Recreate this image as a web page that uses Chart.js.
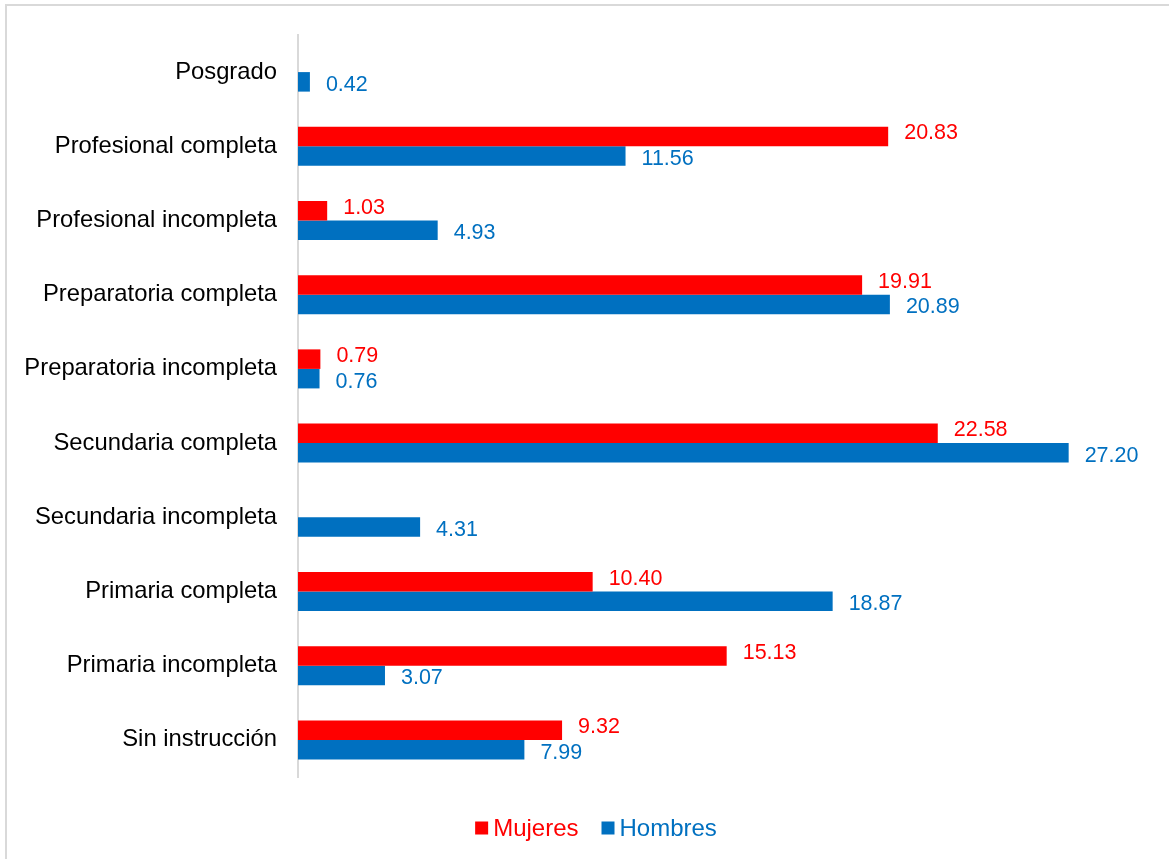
<!DOCTYPE html>
<html>
<head>
<meta charset="utf-8">
<script src="https://cdn.jsdelivr.net/npm/chart.js@4/dist/chart.umd.min.js"></script>
<style>
  html, body { margin: 0; padding: 0; background: #fff; }
  #wrap { position: relative; width: 1169px; height: 859px; }
</style>
</head>
<body>
<div id="wrap"><canvas id="c" width="1169" height="859"></canvas></div>
<script>
// Education level categories, listed top to bottom
const categories = [
  'Posgrado',
  'Profesional completa',
  'Profesional incompleta',
  'Preparatoria completa',
  'Preparatoria incompleta',
  'Secundaria completa',
  'Secundaria incompleta',
  'Primaria completa',
  'Primaria incompleta',
  'Sin instrucción'
];
// Percentages by sex (null = no bar)
const mujeres = [null, 20.83, 1.03, 19.91, 0.79, 22.58, null, 10.40, 15.13, 9.32];
const hombres = [0.42, 11.56, 4.93, 20.89, 0.76, 27.20, 4.31, 18.87, 3.07, 7.99];

const RED = '#FF0000';
const BLUE = '#0070C0';
const FONT = '"Liberation Sans", Arial, sans-serif';

// Frame around the chart
const framePlugin = {
  id: 'frame',
  beforeDraw(chart) {
    const ctx = chart.ctx;
    ctx.save();
    ctx.strokeStyle = '#d9d9d9';
    ctx.lineWidth = 2;
    ctx.strokeRect(6, 5, 1300, 1300);
    ctx.restore();
  }
};

// Value labels at the end of each bar
const valueLabels = {
  id: 'valueLabels',
  afterDatasetsDraw(chart) {
    const ctx = chart.ctx;
    ctx.save();
    ctx.font = '21.5px ' + FONT;
    ctx.textAlign = 'left';
    ctx.textBaseline = 'middle';
    chart.data.datasets.forEach((ds, i) => {
      const meta = chart.getDatasetMeta(i);
      const dy = i === 0 ? -3 : 3;
      meta.data.forEach((bar, j) => {
        const v = ds.data[j];
        if (v === null || v === undefined) return;
        ctx.fillStyle = ds.backgroundColor;
        ctx.fillText(v.toFixed(2), bar.x + 16, bar.y + dy);
      });
    });
    ctx.restore();
  }
};

// Legend with series-coloured text
const customLegend = {
  id: 'customLegend',
  afterDraw(chart) {
    const ctx = chart.ctx;
    ctx.save();
    ctx.font = '24px ' + FONT;
    ctx.textBaseline = 'middle';
    ctx.textAlign = 'left';
    const items = chart.data.datasets.map(d => ({ text: d.label, color: d.backgroundColor }));
    const box = 13, gap = 5, spacing = 23;
    let total = 0;
    items.forEach((it, k) => {
      it.w = ctx.measureText(it.text).width;
      total += box + gap + it.w + (k < items.length - 1 ? spacing : 0);
    });
    let x = 596 - total / 2;
    const y = 828;
    items.forEach(it => {
      ctx.fillStyle = it.color;
      ctx.fillRect(x, y - box / 2, box, box);
      ctx.fillText(it.text, x + box + gap, y + 1);
      x += box + gap + it.w + spacing;
    });
    ctx.restore();
  }
};

new Chart(document.getElementById('c'), {
  type: 'bar',
  data: {
    labels: categories,
    datasets: [
      { label: 'Mujeres', data: mujeres, backgroundColor: RED, borderWidth: 0 },
      { label: 'Hombres', data: hombres, backgroundColor: BLUE, borderWidth: 0 }
    ]
  },
  options: {
    indexAxis: 'y',
    responsive: false,
    animation: false,
    layout: { padding: { top: 35, bottom: 82, left: 0, right: 21 } },
    datasets: { bar: { categoryPercentage: 0.526, barPercentage: 1.0 } },
    plugins: {
      legend: { display: false },
      tooltip: { enabled: false }
    },
    scales: {
      x: {
        display: false,
        min: 0,
        max: 30
      },
      y: {
        grid: { display: false },
        border: { display: true, color: '#d9d9d9', width: 2 },
        ticks: { color: '#000', font: { size: 23.8, family: FONT }, padding: 13 },
        afterFit(scale) { scale.width = 298; }
      }
    }
  },
  plugins: [framePlugin, valueLabels, customLegend]
});
</script>
</body>
</html>
